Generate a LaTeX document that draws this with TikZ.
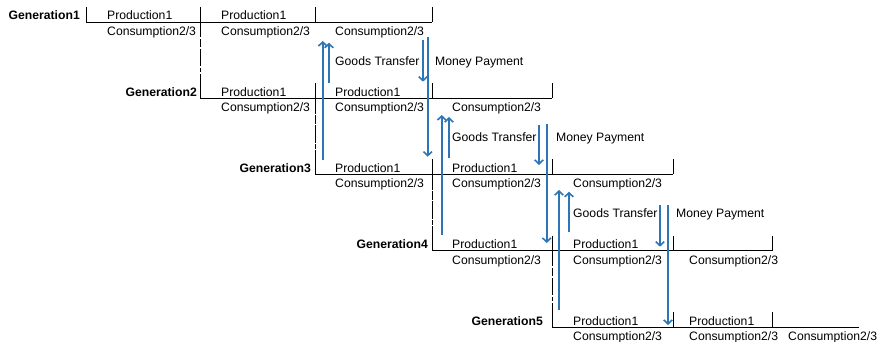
\documentclass[tikz,border=0pt]{standalone}
\usepackage{fontspec}
\setmainfont{Liberation Sans}
\usetikzlibrary{arrows.meta}
\definecolor{arrowblue}{RGB}{46,117,182}
\begin{document}
\begin{tikzpicture}[x=1pt,y=-1pt,
  grid/.style={draw=black, line width=0.8pt},
  flow/.style={draw=arrowblue, line width=1.6pt, -{Straight Barb[length=4pt,width=8.5pt]}},
  txt/.style={anchor=base west, inner sep=0pt, font=\fontsize{12.2}{14}\selectfont},
  gen/.style={anchor=base east, inner sep=0pt, font=\fontsize{12.2}{14}\selectfont\bfseries}]
\useasboundingbox (0,0) rectangle (879,342);

\foreach \k/\L/\Ln/\ba/\bb/\bc/\bd/\lx/\ta/\tb/\tc in {
  1/22/98.5/86/200/315/432/80/107/221/335,
  2/98.5/174.5/200/315/432/552/197/221/335/452,
  3/174.5/250.75/315/432/552/673/311/335/452/573,
  4/250.75/327/432/552/673/772/428/452/573/689,
  5/327/403/552/673/772/859/543/573/689/788}
{
  \node[gen] (lab\k) at (\lx,\L-2) {Generation\k};
  \node[txt] (pa\k) at (\ta,\L-2) {Production1};
  \node[txt] (pb\k) at (\tb,\L-2) {Production1};
  \node[txt] (ca\k) at (\ta,\L+13.5) {Consumption2/3};
  \node[txt] (cb\k) at (\tb,\L+13.5) {Consumption2/3};
  \node[txt] (cc\k) at (\tc,\L+13.5) {Consumption2/3};
  \coordinate (g\k a) at (\ba,\L);
  \coordinate (g\k d) at (\bd,\L);
  \draw[grid] (\ba,\L-15) -- (g\k a) -- (g\k d);
  \draw[grid] (\bc,\L-15) -- (\bc,\L);
  \ifnum\k<5
    \draw[grid] (\bd,\L-15) -- (\bd,\L);
    \draw[grid] (\bb,\L-15) -- (\bb,\L+15.2);
    \draw[grid] (\bb,\L+16.8) -- (\bb,\L+25.2);
    \draw[grid] (\bb,\L+26.8) -- (\bb,\L+44.2);
    \draw[grid] (\bb,\L+45.8) -- (\bb,\L+50.2);
    \draw[grid] (\bb,\L+51.8) -- (\bb,\Ln);
  \else
    \draw[grid] (\bb,\L-15) -- (\bb,\L);
  \fi
}

\foreach \t/\lux/\luya/\luyb/\sux/\suya/\suyb/\sdx/\sdya/\sdyb/\ldx/\ldya/\ldyb/\gx/\mx/\ty in {
  1/322.7/160/41/329/82.7/42.7/423/40/81.7/427.7/36.7/156.7/335/435/65.5,
  2/441.7/235/115/449/158/117/539/125/165/546.7/124/243/452/556/142,
  3/559/310/190/569/231.7/191.7/660/205/246.7/668/205/325/573/676/218}
{
  \coordinate (lu\t s) at (\lux,\luya);
  \coordinate (lu\t e) at (\lux,\luyb);
  \coordinate (su\t s) at (\sux,\suya);
  \coordinate (su\t e) at (\sux,\suyb);
  \coordinate (sd\t s) at (\sdx,\sdya);
  \coordinate (sd\t e) at (\sdx,\sdyb);
  \coordinate (ld\t s) at (\ldx,\ldya);
  \coordinate (ld\t e) at (\ldx,\ldyb);
  \draw[flow] (lu\t s) -- (lu\t e);
  \draw[flow] (su\t s) -- (su\t e);
  \draw[flow] (sd\t s) -- (sd\t e);
  \draw[flow] (ld\t s) -- (ld\t e);
  \node[txt] (goods\t) at (\gx,\ty) {Goods Transfer};
  \node[txt] (money\t) at (\mx,\ty) {Money Payment};
}
\end{tikzpicture}
\end{document}
